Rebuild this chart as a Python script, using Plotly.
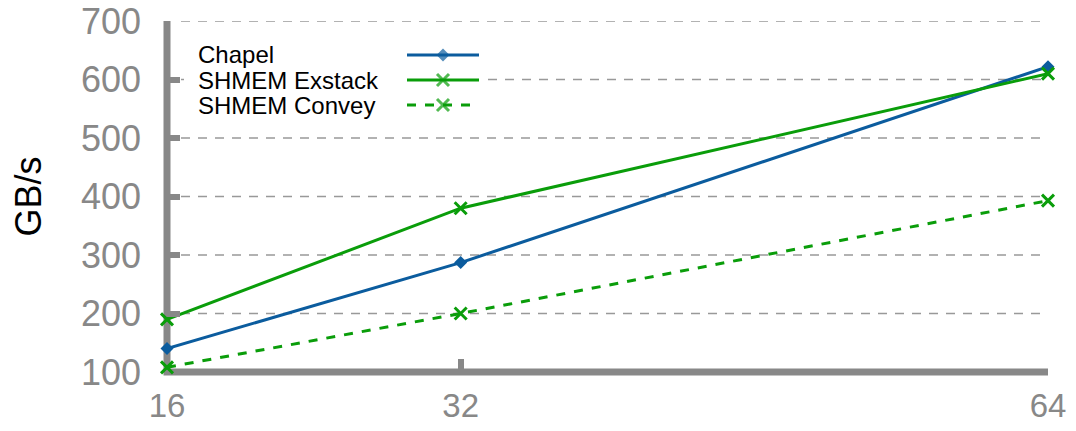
import plotly.graph_objects as go

# ---- data ----
pes = [16, 32, 64]
chapel = [140, 287, 622]
shmem_exstack = [190, 380, 610]
shmem_convey = [108, 200, 393]
series_names = ["Chapel", "SHMEM Exstack", "SHMEM Convey"]
y_ticks = [100, 200, 300, 400, 500, 600, 700]
x_ticks = [16, 32, 64]

BLUE = "#0b5c9e"
GREEN = "#0a9d0a"
GRAY = "#888888"
FONT = "Liberation Sans, Arial, Helvetica, sans-serif"

# page body has an 8px margin -> figure is shifted by 8px right/down
OFF = 8
W, H = 1076 - OFF, 431 - OFF

X0, X1 = 16, 64
Y0, Y1 = 100, 700

fig = go.Figure()

styles = [
    dict(color=BLUE, dash="solid", symbol="diamond", msize=10, mline=0),
    dict(color=GREEN, dash="solid", symbol="x-thin", msize=12, mline=3),
    dict(color=GREEN, dash="dash", symbol="x-thin", msize=12, mline=3),
]
for name, ys, st in zip(series_names, [chapel, shmem_exstack, shmem_convey], styles):
    fig.add_trace(go.Scatter(
        x=pes, y=ys, name=name, mode="lines+markers",
        line=dict(color=st["color"], width=3, dash=st["dash"]),
        marker=dict(symbol=st["symbol"], size=st["msize"], color=st["color"],
                    line=dict(color=st["color"], width=st["mline"])),
        cliponaxis=False, showlegend=False,
    ))

# ---- helpers: pixel position (in the 1076x431 page) -> paper fraction ----
def px2x(px):
    return (px - 167) / 881.0

def py2y(py):
    return (372 - py) / 351.0

def fx(f):
    return X0 + f * (X1 - X0)

# legend box spans these page pixels; grid is not drawn behind it
LEG_LEFT, LEG_RIGHT, LEG_TOP, LEG_BOTTOM = 184, 488, 37, 118
GRID_START = 181  # grid dashes begin just after the tick stubs

# ---- dashed horizontal grid (gap behind the legend box) ----
for v in y_ticks[1:]:
    frac = (v - Y0) / (Y1 - Y0)
    py = 372 - frac * 351
    segments = [(fx(px2x(GRID_START)), X1)]
    if LEG_TOP <= py <= LEG_BOTTOM:
        segments = [(fx(px2x(GRID_START)), fx(px2x(LEG_LEFT))), (fx(px2x(LEG_RIGHT)), X1)]
    for a, b in segments:
        fig.add_shape(type="line", xref="x", yref="y", x0=a, x1=b, y0=v, y1=v,
                      line=dict(color="#999999", width=1.5, dash="9px,8px"), layer="below")

# ---- axis spine (L shape) centred on the axis ends, not clipped ----
fig.add_shape(type="path", xref="paper", yref="paper",
              path="M 0,1 L 0,0 L 1,0",
              line=dict(color=GRAY, width=7), layer="below")

# ---- custom legend (text left, sample right) ----
row_y = [55, 80, 105]
for name, st, ry in zip(series_names, styles, row_y):
    fig.add_annotation(xref="paper", yref="paper", x=px2x(199), y=py2y(ry),
                       text=name, showarrow=False, xanchor="left", yanchor="middle",
                       xshift=-3, font=dict(family=FONT, size=24, color="black"))
    fig.add_trace(go.Scatter(
        x=[px2x(407), px2x(443), px2x(479)], y=[py2y(ry)] * 3,
        xaxis="x2", yaxis="y2", mode="lines+markers",
        line=dict(color=st["color"], width=3, dash=st["dash"]),
        marker=dict(symbol=st["symbol"], size=[0, st["msize"], 0], color=st["color"],
                    line=dict(color=st["color"], width=st["mline"])),
        showlegend=False, hoverinfo="skip", cliponaxis=False,
    ))

fig.update_layout(
    width=W, height=H,
    margin=dict(l=167 - OFF, r=28, t=21 - OFF, b=59),
    plot_bgcolor="rgba(0,0,0,0)", paper_bgcolor="white",
    showlegend=False,
    font=dict(family=FONT),
    xaxis=dict(
        range=[X0, X1], tickvals=x_ticks, ticktext=[str(v) for v in x_ticks],
        showline=False,
        ticks="inside", ticklen=13, tickwidth=6, tickcolor=GRAY,
        showgrid=False, zeroline=False, automargin=False,
        tickfont=dict(family=FONT, size=33, color=GRAY),
        ticklabelstandoff=11, ticklabeloverflow="allow",
    ),
    yaxis=dict(
        range=[Y0, Y1], tickvals=y_ticks,
        showline=False,
        ticks="inside", ticklen=13, tickwidth=6, tickcolor=GRAY,
        showgrid=False, zeroline=False, automargin=False,
        tickfont=dict(family=FONT, size=36, color=GRAY),
        ticklabelstandoff=25, ticklabeloverflow="allow",
        title=dict(text="GB/s", font=dict(family=FONT, size=36, color="black"), standoff=28),
    ),
    xaxis2=dict(overlaying="x", range=[0, 1], visible=False),
    yaxis2=dict(overlaying="y", range=[0, 1], visible=False),
)

fig.write_html("out.html")
